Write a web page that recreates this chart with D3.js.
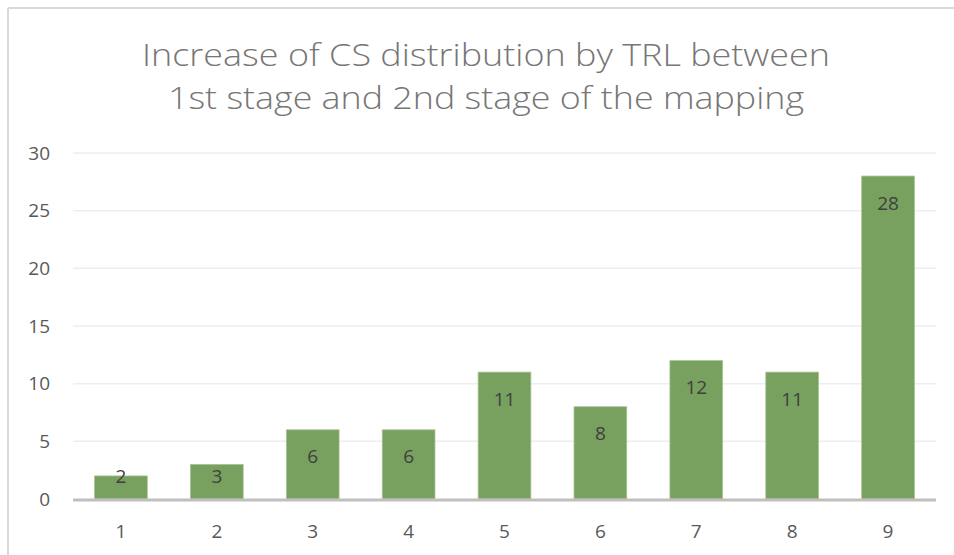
<!DOCTYPE html>
<html lang="en">
<head>
  <meta charset="UTF-8">
  <title>CS distribution by TRL</title>
  <style>
    body { margin: 0; background: #fff; }
    text { font-family: "Open Sans", "Noto Sans", sans-serif; }
  </style>
</head>
<body>
  <svg></svg>
  <script src="https://cdn.jsdelivr.net/npm/d3@7"></script>
  <script>
    // data
    var categories = ["1", "2", "3", "4", "5", "6", "7", "8", "9"];
    var values = [2, 3, 6, 6, 11, 8, 12, 11, 28];
    var yTicks = [0, 5, 10, 15, 20, 25, 30];
    var titleLines = ["Increase of CS distribution by TRL between",
                      "1st stage and 2nd stage of the mapping"];

    var width = 954, height = 555;
    var margin = { top: 153, right: 18, bottom: 56, left: 73 };

    var svg = d3.select("svg")
      .attr("width", width)
      .attr("height", height);

    // chart frame (only left and top edges visible)
    svg.append("line")
      .attr("x1", 8).attr("x2", 8).attr("y1", 8).attr("y2", height)
      .attr("stroke", "#d9d9d9").attr("stroke-width", 2);
    svg.append("line")
      .attr("x1", 8).attr("x2", width).attr("y1", 8).attr("y2", 8)
      .attr("stroke", "#d9d9d9").attr("stroke-width", 2);

    var x = d3.scaleBand()
      .domain(categories)
      .range([margin.left, width - margin.right])
      .paddingInner(0.45)
      .paddingOuter(0.225);

    var y = d3.scaleLinear()
      .domain([0, 30])
      .range([height - margin.bottom, margin.top]);

    // gridlines
    svg.append("g")
      .selectAll("line")
      .data(yTicks.filter(d => d > 0))
      .join("line")
      .attr("x1", margin.left)
      .attr("x2", width - margin.right)
      .attr("y1", d => y(d))
      .attr("y2", d => y(d))
      .attr("stroke", "#eeeeee")
      .attr("stroke-width", 1.5);

    // y tick labels
    svg.append("g")
      .selectAll("text")
      .data(yTicks)
      .join("text")
      .attr("x", 50)
      .attr("y", d => y(d))
      .attr("dy", "0.35em")
      .attr("text-anchor", "end")
      .attr("fill", "#595959")
      .attr("font-size", "19px")
      .text(d => d);

    // bars
    svg.append("g")
      .selectAll("rect")
      .data(values)
      .join("rect")
      .attr("x", (d, i) => x(categories[i]))
      .attr("y", d => y(d))
      .attr("width", x.bandwidth())
      .attr("height", d => y(0) - y(d))
      .attr("fill", "#78a05e")
      .attr("stroke", "#a9c496")
      .attr("stroke-width", 0.8);

    // value labels, inside end
    svg.append("g")
      .selectAll("text")
      .data(values)
      .join("text")
      .attr("x", (d, i) => x(categories[i]) + x.bandwidth() / 2)
      .attr("y", d => Math.min(y(d) + 27, y(0) - 23))
      .attr("dy", "0.35em")
      .attr("text-anchor", "middle")
      .attr("fill", "#404040")
      .attr("font-size", "19px")
      .text(d => d);

    // x axis line
    svg.append("line")
      .attr("x1", margin.left)
      .attr("x2", width - margin.right)
      .attr("y1", y(0) + 1)
      .attr("y2", y(0) + 1)
      .attr("stroke", "#bfbfbf")
      .attr("stroke-width", 3);

    // x tick labels
    svg.append("g")
      .selectAll("text")
      .data(categories)
      .join("text")
      .attr("x", d => x(d) + x.bandwidth() / 2)
      .attr("y", 538)
      .attr("text-anchor", "middle")
      .attr("fill", "#595959")
      .attr("font-size", "19px")
      .text(d => d);

    // title, stretched to the width of the original face
    var targetWidth = [688, 636];
    svg.append("g")
      .selectAll("text")
      .data(titleLines)
      .join("text")
      .attr("x", 486)
      .attr("y", (d, i) => 66 + i * 43)
      .attr("text-anchor", "middle")
      .attr("fill", "#767676")
      .attr("font-weight", 300)
      .attr("font-size", "32px")
      .attr("textLength", (d, i) => targetWidth[i])
      .attr("lengthAdjust", "spacingAndGlyphs")
      .text(d => d);
  </script>
</body>
</html>
